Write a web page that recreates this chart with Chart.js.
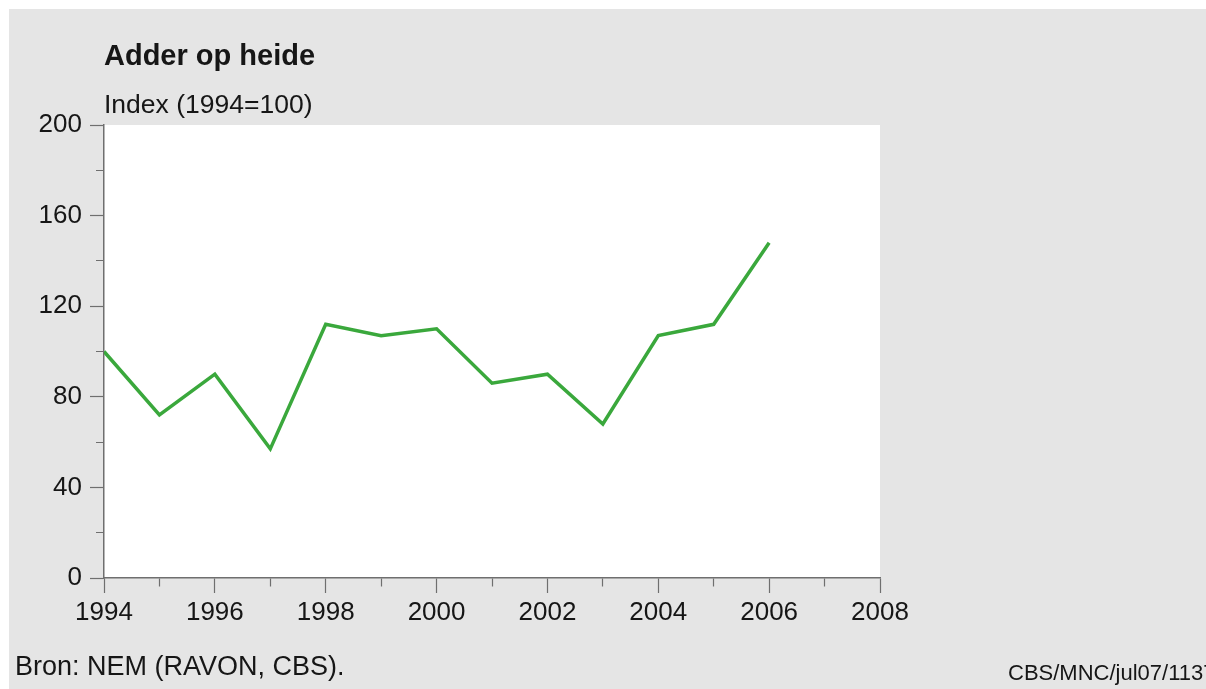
<!DOCTYPE html>
<html>
<head>
<meta charset="utf-8">
<script src="https://cdn.jsdelivr.net/npm/chart.js@4.4.1/dist/chart.umd.min.js"></script>
<style>
  html, body { margin: 0; padding: 0; background: #fff; }
  #wrap { position: absolute; left: 0; top: 0; width: 1206px; height: 689px; }
</style>
</head>
<body>
<div id="wrap"><canvas id="adderChart"></canvas></div>
<script>
const years = [1994,1995,1996,1997,1998,1999,2000,2001,2002,2003,2004,2005,2006];
const indexValues = [100,72,90,57,112,107,110,86,90,68,107,112,148];
const xTicks = [1994,1996,1998,2000,2002,2004,2006,2008];
const yTicks = [0,40,80,120,160,200];

const FONT = "'Liberation Sans', Arial, sans-serif";
const axisGray = '#6f6f6f';
const textColor = '#161616';

const frame = {
  id: 'frame',
  beforeDraw(chart) {
    const {ctx, chartArea} = chart;
    ctx.save();
    ctx.fillStyle = '#e5e5e5';
    ctx.fillRect(9, 9, chart.width - 9, chart.height - 9);
    ctx.fillStyle = '#ffffff';
    ctx.fillRect(chartArea.left, chartArea.top, chartArea.right - chartArea.left, chartArea.bottom - chartArea.top);
    ctx.restore();
  },
  afterDraw(chart) {
    const {ctx, chartArea} = chart;
    ctx.save();
    ctx.fillStyle = textColor;
    ctx.textBaseline = 'middle';
    ctx.textAlign = 'left';
    ctx.font = "bold 29px " + FONT;
    ctx.fillText('Adder op heide', chartArea.left, 57);
    ctx.font = "26.5px " + FONT;
    ctx.fillText('Index (1994=100)', chartArea.left, 106);
    ctx.font = "27px " + FONT;
    ctx.fillText('Bron: NEM (RAVON, CBS).', 15, 668);
    ctx.font = "22px " + FONT;
    ctx.fillText('CBS/MNC/jul07/1137', 1008, 674);
    ctx.restore();
  }
};

const ctx = document.getElementById('adderChart').getContext('2d');

new Chart(ctx, {
  type: 'line',
  data: {
    datasets: [{
      label: 'Adder op heide',
      data: years.map((y, i) => ({x: y, y: indexValues[i]})),
      borderColor: '#3aa83c',
      borderWidth: 3.5,
      pointRadius: 0,
      tension: 0,
      fill: false
    }]
  },
  options: {
    responsive: true,
    maintainAspectRatio: false,
    animation: false,
    layout: { padding: { left: 10, right: 326, top: 125, bottom: 61 } },
    plugins: {
      legend: { display: false },
      tooltip: { enabled: false }
    },
    scales: {
      x: {
        type: 'linear',
        min: 1994,
        max: 2008,
        afterFit(scale) { scale.height = 50; },
        afterBuildTicks(scale) {
          scale.ticks = years.concat([2007, 2008]).map(v => ({value: v}));
        },
        ticks: {
          autoSkip: false,
          maxRotation: 0,
          padding: 4,
          color: textColor,
          font: { family: FONT, size: 26 },
          callback: v => xTicks.includes(v) ? String(v) : ''
        },
        grid: {
          drawOnChartArea: false,
          tickLength: 15,
          tickColor: axisGray,
          tickWidth: 1.2,
          tickBorderDash: c => xTicks.includes(c.tick.value) ? [] : [8, 100]
        },
        border: { color: axisGray, width: 1.5 }
      },
      y: {
        min: 0,
        max: 200,
        afterFit(scale) { scale.width = 94; },
        ticks: {
          stepSize: 20,
          padding: 8,
          color: textColor,
          font: { family: FONT, size: 26 },
          callback: v => yTicks.includes(v) ? String(v) : ''
        },
        grid: {
          drawOnChartArea: false,
          tickLength: 14,
          tickColor: axisGray,
          tickWidth: 1.2,
          tickBorderDash: c => yTicks.includes(c.tick.value) ? [] : [0, 6, 8, 100]
        },
        border: { color: axisGray, width: 1.5 }
      }
    }
  },
  plugins: [frame]
});
</script>
</body>
</html>
